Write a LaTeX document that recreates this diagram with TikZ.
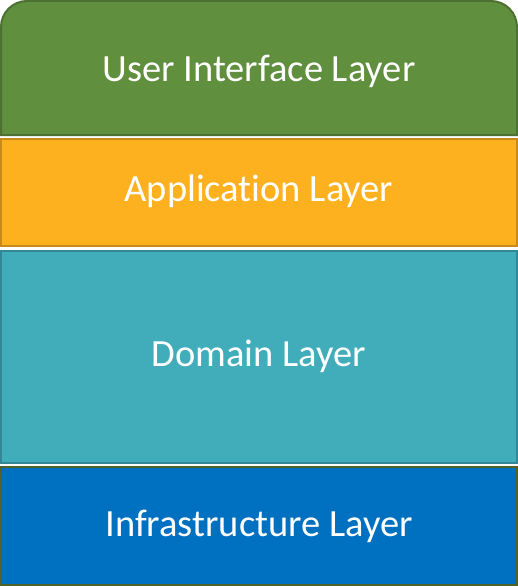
\documentclass[tikz,border=0pt]{standalone}
\usepackage{fontspec}
\setmainfont[Ligatures={NoCommon}]{Carlito}
\usetikzlibrary{positioning}
\definecolor{uigreen}{RGB}{96,143,62}
\definecolor{uigreendk}{RGB}{76,113,50}
\definecolor{apporange}{RGB}{253,177,31}
\definecolor{apporangedk}{RGB}{200,138,24}
\definecolor{domteal}{RGB}{65,173,187}
\definecolor{domtealdk}{RGB}{50,136,150}
\definecolor{infblue}{RGB}{0,112,192}
\definecolor{infbluedk}{RGB}{79,98,40}
\begin{document}
\begin{tikzpicture}[x=1pt,y=-1pt,
    layer/.style={line width=2pt},
    lbl/.style={text=white,font=\fontsize{38.5}{44}\selectfont}]
      \useasboundingbox (0,0) rectangle (518,586);
      % User interface (rounded top)
      \draw[layer,draw=uigreendk,fill=uigreen]
        (1,135) [rounded corners=26pt] -- (1,1) -- (517,1) [sharp corners] -- (517,135) -- cycle;
      \node[lbl] (ui) at (259,71) {User Interface Layer};
      % Application
      \draw[layer,draw=apporangedk,fill=apporange] (1,139) rectangle (517,246);
      \node[lbl] (app) at (259,191) {Application Layer};
      % Domain
      \draw[layer,draw=domtealdk,fill=domteal] (1,251) rectangle (517,463);
      \node[lbl] (dom) at (259,356) {Domain Layer};
      % Infrastructure
      \draw[layer,draw=infbluedk,fill=infblue] (1,467) rectangle (517,585);
      \node[lbl] (infra) at (259,526) {Infrastructure Layer};
    \end{tikzpicture}
\end{document}
